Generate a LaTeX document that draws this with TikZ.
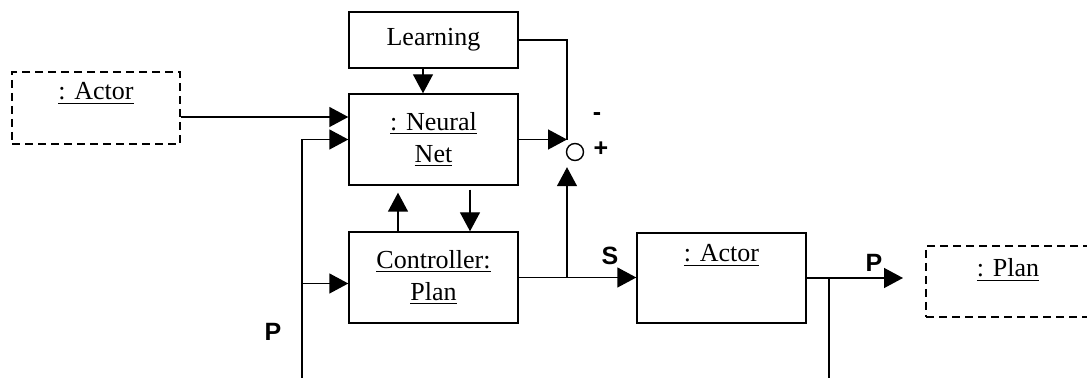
\documentclass[tikz,border=0pt]{standalone}
\usepackage{fontspec}
\setmainfont{Liberation Serif}
\newfontfamily\lblfont{Liberation Sans}
\usetikzlibrary{arrows.meta,positioning,calc}
\tikzset{box/.style={draw,line width=.7pt,minimum width=84.5pt,minimum height=45.5pt,align=center,font=\fontsize{13}{16}\selectfont,inner sep=0pt},dbox/.style={box,dash pattern=on 4pt off 2.5pt},flow/.style={-{Triangle[length=9.5pt,width=10pt]},line width=.7pt},wire/.style={line width=.7pt},sig/.style={font=\lblfont\bfseries\fontsize{12.5}{14}\selectfont,inner sep=0pt}}

\begin{document}
\begin{tikzpicture}[x=.5pt,y=-.5pt]
\useasboundingbox (0,0) rectangle (1087,378);
\node[dbox,minimum width=84pt,minimum height=36pt,text height=14pt,text depth=22pt] (actin) at (96,108) {\underline{: Actor}};
\node[box,minimum height=28pt] (learn) at (433.5,40) {Learning};
\node[box] (nnet) at (433.5,139.5) {\underline{: Neural}\\\underline{Net}};
\node[box] (ctrl) at (433.5,277.5) {\underline{Controller:}\\\underline{Plan}};
\node[box,minimum height=45pt,text height=14.5pt,text depth=30.5pt] (actor) at (721.5,278) {\underline{: Actor}};
\node[dbox,minimum width=82pt,minimum height=35.5pt,text height=15.5pt,text depth=20pt] (plan) at (1008,281.5) {\underline{: Plan}};
\node[circle,draw,line width=.7pt,minimum size=8.5pt,inner sep=0pt] (sum) at (575,152) {};
\node[sig] (minus) at (597,117) {-};
\node[sig] (plus) at (601,149) {+};
\node[sig] (sin) at (610,256) {S};
\node[sig] (pout-l) at (874,263) {P};
\node[sig] (pin-l) at (273,332) {P};
\coordinate (mix) at (567,140);
\coordinate (pout) at (903,278);
\coordinate (bl) at (302,385);
\coordinate (br) at (829,385);
\coordinate (a1) at ([yshift=-4.5pt]actin.east);
\coordinate (c1) at ([yshift=-3pt]ctrl.west);
\coordinate (s1) at ([yshift=-3pt]sum.south);
% inputs of the net
\draw[flow] (a1) -- (a1 -| nnet.west);
\draw[flow] (bl) |- (nnet.west);
\draw[flow] (bl |- c1) -- (c1);
\draw[flow] ([xshift=-5.25pt]learn.south) -- ([xshift=-5.25pt]nnet.north);
% error
\draw[wire] (learn.east) -| (mix);
\draw[flow] (nnet.east) -- (nnet.east -| mix);
\draw[flow] (ctrl.east -| mix) -- (s1 -| mix);
% net and controller
\draw[flow,shorten >=3.5pt] ([xshift=-17.75pt]ctrl.north) -- ([xshift=-17.75pt]nnet.south);
\draw[flow,shorten <=2pt] ([xshift=18.25pt]nnet.south) -- ([xshift=18.25pt]ctrl.north);
% plan out
\draw[flow] (ctrl.east) -- (ctrl.east -| actor.west);
\draw[flow] (actor.east) -- (pout);
\draw[wire] (br |- actor.east) -- (br);
\end{tikzpicture}
\end{document}
